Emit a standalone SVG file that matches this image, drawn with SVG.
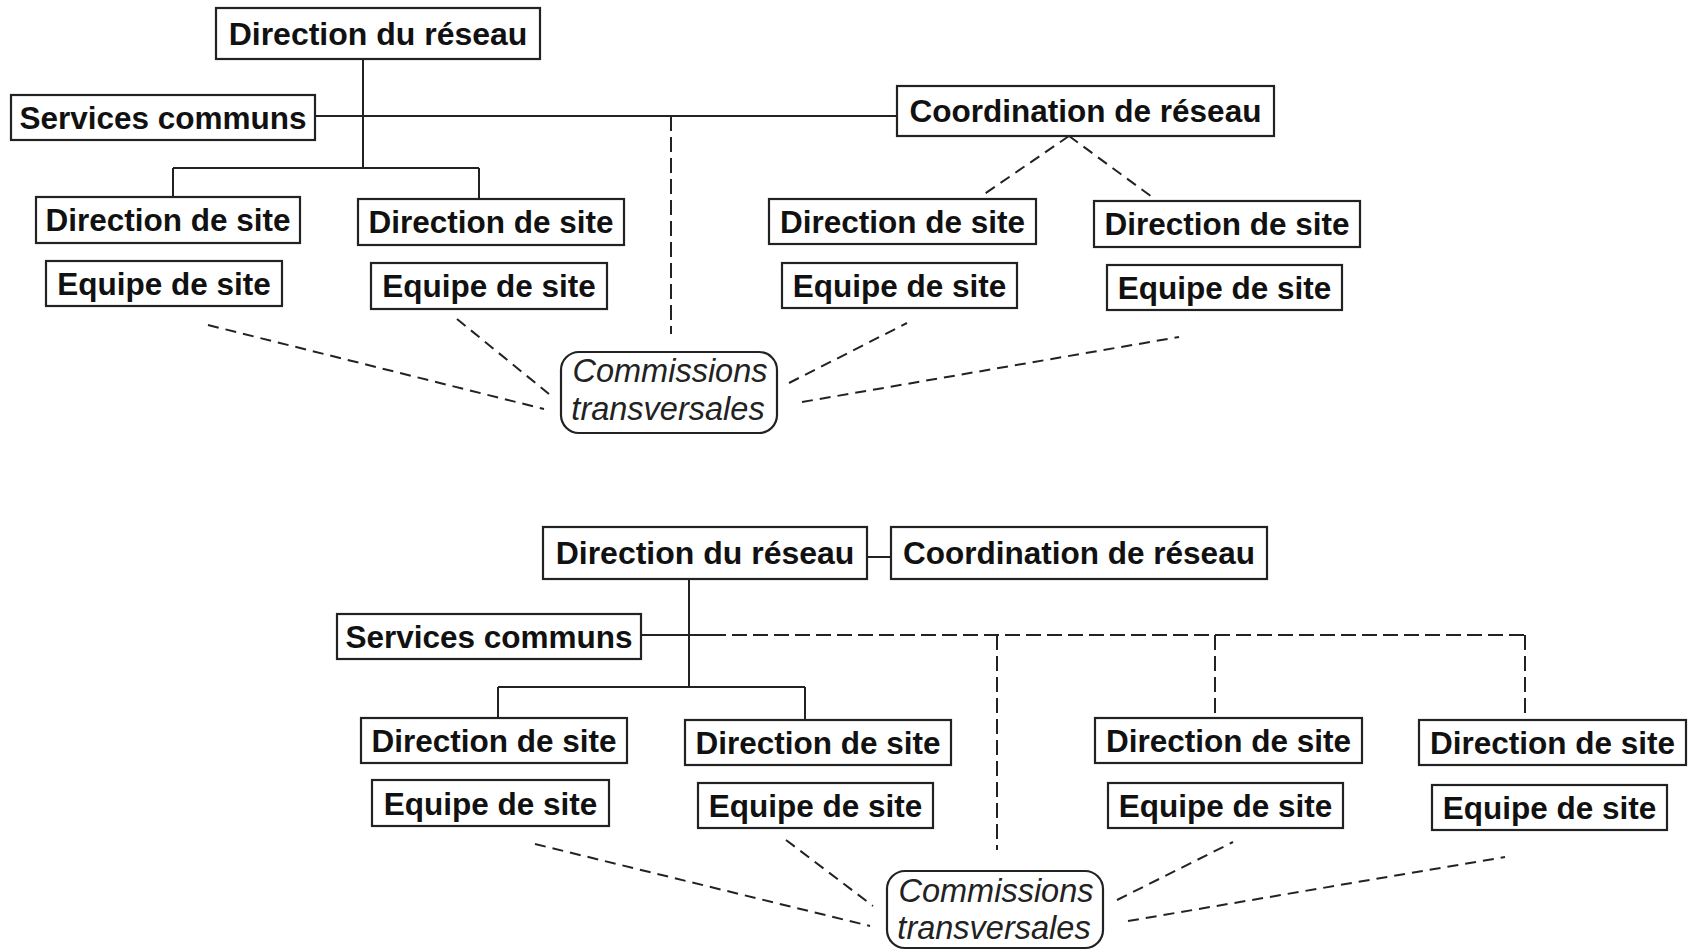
<svg xmlns="http://www.w3.org/2000/svg" width="1688" height="950" viewBox="0 0 1688 950">
<style>
.box{fill:#fff;stroke:#222;stroke-width:2.2}
.t{font-family:"Liberation Sans",Arial,sans-serif;font-weight:bold;font-size:31.5px;fill:#111;text-anchor:middle}
.big{font-size:32px}
.it{font-family:"Liberation Sans",Arial,sans-serif;font-style:italic;font-size:32.5px;fill:#222;text-anchor:middle}
.ln{stroke:#222;stroke-width:2;fill:none}
.dash{stroke:#222;stroke-width:2;fill:none;stroke-dasharray:11 7}
.vdash{stroke:#222;stroke-width:2;fill:none;stroke-dasharray:15 6}
</style>
<rect width="1688" height="950" fill="#fff"/>
<g id="connectors">
<line class="ln" x1="315" y1="116" x2="897" y2="116"/>
<line class="ln" x1="363" y1="59" x2="363" y2="168"/>
<line class="ln" x1="173" y1="168" x2="479" y2="168"/>
<line class="ln" x1="173" y1="168" x2="173" y2="197"/>
<line class="ln" x1="479" y1="168" x2="479" y2="199"/>
<line class="vdash" x1="671" y1="116" x2="671" y2="334"/>
<line class="dash" x1="1069" y1="136" x2="980" y2="197"/>
<line class="dash" x1="1069" y1="136" x2="1152" y2="197"/>
<line class="dash" x1="208" y1="325" x2="544" y2="409"/>
<line class="dash" x1="457" y1="319" x2="549" y2="394"/>
<line class="dash" x1="789" y1="383" x2="907" y2="323"/>
<line class="dash" x1="802" y1="402" x2="1179" y2="337"/>
<line class="ln" x1="867" y1="557" x2="891" y2="557"/>
<line class="ln" x1="689" y1="579" x2="689" y2="687"/>
<line class="ln" x1="641" y1="635" x2="711" y2="635"/>
<line class="vdash" x1="711" y1="635" x2="1525" y2="635"/>
<line class="ln" x1="498" y1="687" x2="805" y2="687"/>
<line class="ln" x1="498" y1="687" x2="498" y2="718"/>
<line class="ln" x1="805" y1="687" x2="805" y2="720"/>
<line class="vdash" x1="997" y1="635" x2="997" y2="850"/>
<line class="vdash" x1="1215" y1="635" x2="1215" y2="716"/>
<line class="vdash" x1="1525" y1="635" x2="1525" y2="718"/>
<line class="dash" x1="535" y1="844" x2="870" y2="926"/>
<line class="dash" x1="786" y1="840" x2="873" y2="906"/>
<line class="dash" x1="1117" y1="900" x2="1233" y2="842"/>
<line class="dash" x1="1128" y1="921" x2="1505" y2="857"/>
</g>
<g id="top-direction-reseau"><rect class="box" x="216" y="8" width="324" height="51"/><text class="t big" x="378" y="45">Direction du réseau</text></g>
<g id="top-services-communs"><rect class="box" x="11" y="95" width="304" height="45"/><text class="t" x="163" y="129">Services communs</text></g>
<g id="top-coordination"><rect class="box" x="897" y="86" width="377" height="50"/><text class="t" x="1085.5" y="122">Coordination de réseau</text></g>
<g id="top-dds1"><rect class="box" x="36" y="197" width="264" height="46"/><text class="t" x="168" y="231">Direction de site</text></g>
<g id="top-dds2"><rect class="box" x="358" y="199" width="266" height="46"/><text class="t" x="491" y="233">Direction de site</text></g>
<g id="top-eds1"><rect class="box" x="46" y="261" width="236" height="45"/><text class="t" x="164" y="295">Equipe de site</text></g>
<g id="top-eds2"><rect class="box" x="371" y="263" width="236" height="46"/><text class="t" x="489" y="297">Equipe de site</text></g>
<g id="top-dds3"><rect class="box" x="769" y="199" width="267" height="45"/><text class="t" x="902.5" y="233">Direction de site</text></g>
<g id="top-dds4"><rect class="box" x="1094" y="201" width="266" height="46"/><text class="t" x="1227" y="235">Direction de site</text></g>
<g id="top-eds3"><rect class="box" x="782" y="263" width="235" height="45"/><text class="t" x="899.5" y="297">Equipe de site</text></g>
<g id="top-eds4"><rect class="box" x="1107" y="265" width="235" height="45"/><text class="t" x="1224.5" y="299">Equipe de site</text></g>
<g id="top-commissions"><rect class="box" x="561" y="352" width="216" height="81" rx="18"/><text class="it" x="670" y="382">Commissions</text><text class="it" x="668" y="420">transversales</text></g>
<g id="bot-direction-reseau"><rect class="box" x="543" y="527" width="324" height="52"/><text class="t big" x="705" y="564">Direction du réseau</text></g>
<g id="bot-coordination"><rect class="box" x="891" y="527" width="376" height="52"/><text class="t" x="1079" y="564">Coordination de réseau</text></g>
<g id="bot-services-communs"><rect class="box" x="337" y="614" width="304" height="45"/><text class="t" x="489" y="648">Services communs</text></g>
<g id="bot-dds5"><rect class="box" x="361" y="718" width="266" height="45"/><text class="t" x="494" y="752">Direction de site</text></g>
<g id="bot-dds6"><rect class="box" x="685" y="720" width="266" height="45"/><text class="t" x="818" y="754">Direction de site</text></g>
<g id="bot-eds5"><rect class="box" x="372" y="780" width="237" height="46"/><text class="t" x="490.5" y="815">Equipe de site</text></g>
<g id="bot-eds6"><rect class="box" x="698" y="783" width="235" height="45"/><text class="t" x="815.5" y="817">Equipe de site</text></g>
<g id="bot-dds7"><rect class="box" x="1095" y="718" width="267" height="45"/><text class="t" x="1228.5" y="752">Direction de site</text></g>
<g id="bot-dds8"><rect class="box" x="1419" y="720" width="267" height="45"/><text class="t" x="1552.5" y="754">Direction de site</text></g>
<g id="bot-eds7"><rect class="box" x="1108" y="783" width="235" height="45"/><text class="t" x="1225.5" y="817">Equipe de site</text></g>
<g id="bot-eds8"><rect class="box" x="1432" y="785" width="235" height="45"/><text class="t" x="1549.5" y="819">Equipe de site</text></g>
<g id="bot-commissions"><rect class="box" x="887" y="871" width="216" height="77" rx="18"/><text class="it" x="996" y="902">Commissions</text><text class="it" x="994" y="939">transversales</text></g>
</svg>
